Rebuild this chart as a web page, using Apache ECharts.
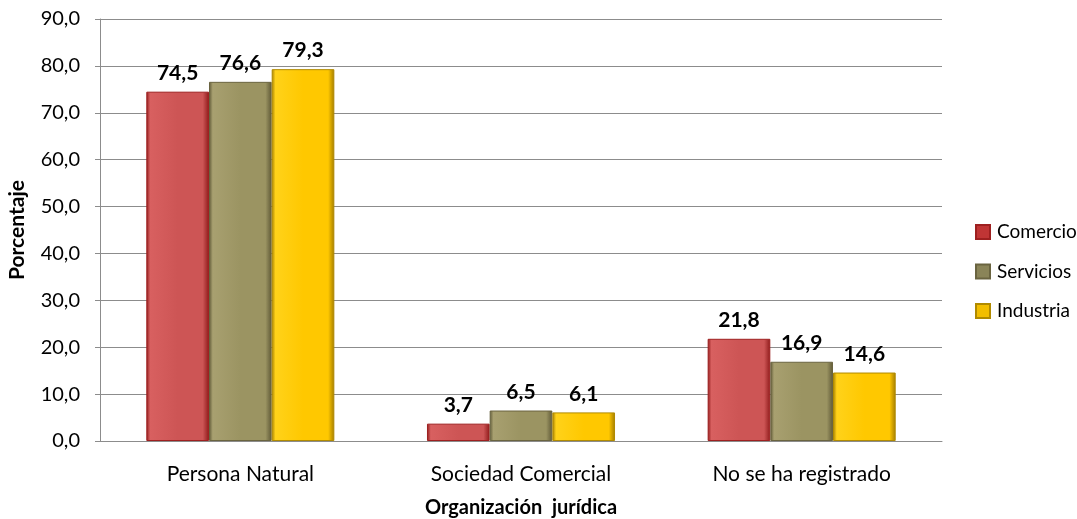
<!DOCTYPE html>
<html><head><meta charset="utf-8">
<script src="https://cdn.jsdelivr.net/npm/echarts@6/dist/echarts.min.js"></script>
<style>html,body{margin:0;padding:0;background:#fff;overflow:hidden}#c{width:1077px;height:519px}</style>
</head><body><div id="c"></div>
<script>
const categories = ['Persona Natural', 'Sociedad Comercial', 'No se ha registrado'];
const comercio = [74.5, 3.7, 21.8];
const servicios = [76.6, 6.5, 16.9];
const industria = [79.3, 6.1, 14.6];
const seriesNames = ['Comercio', 'Servicios', 'Industria'];
const yTicks = [0, 10, 20, 30, 40, 50, 60, 70, 80, 90];

const FONT = 'Lato, "Open Sans", sans-serif';
function grad(light, mid, dark) {
  return new echarts.graphic.LinearGradient(0, 0, 1, 0, [
    {offset: 0, color: dark}, {offset: 0.06, color: light}, {offset: 0.5, color: mid},
    {offset: 0.9, color: mid}, {offset: 1, color: dark}
  ]);
}
const styles = [
  {color: grad('#d86060', '#cd5555', '#8e1a1a'), borderColor: '#9e2020'},
  {color: grad('#a8a070', '#9b9462', '#5e5836'), borderColor: '#6a6440'},
  {color: grad('#ffd21a', '#ffc800', '#a37c00'), borderColor: '#b08a00'}
];
const legendColors = ['#c03535', '#8a8458', '#f2be00'];
const data = [comercio, servicios, industria];
const chart = echarts.init(document.getElementById('c'), null, {renderer: 'canvas', width: 1077, height: 519});
chart.setOption({
  animation: false,
  textStyle: {fontFamily: FONT},
  grid: {left: 100, right: 135, top: 19, bottom: 78, containLabel: false, outerBoundsMode: 'none'},
  legend: {
    orient: 'vertical', left: 975, top: 222, itemGap: 19.5, padding: 0,
    itemWidth: 14, itemHeight: 14, icon: 'rect',
    textStyle: {fontFamily: FONT, fontSize: 19, lineHeight: 20, color: '#000', padding: [0, 0, 0, 2]},
    data: seriesNames.map((n, i) => ({name: n, itemStyle: {color: legendColors[i]}}))
  },
  xAxis: {
    type: 'category', data: categories,
    name: 'Organización  jurídica', nameLocation: 'middle', nameGap: 57,
    nameTextStyle: {fontFamily: FONT, fontSize: 20, fontWeight: 'bold', color: '#000'},
    axisLine: {lineStyle: {color: '#8c8c8c', width: 1}},
    axisTick: {show: false},
    axisLabel: {fontFamily: FONT, fontSize: 21, color: '#000', margin: 23}
  },
  yAxis: {
    type: 'value', min: 0, max: 90, interval: 10,
    name: 'Porcentaje', nameLocation: 'middle', nameGap: 72,
    nameTextStyle: {fontFamily: FONT, fontSize: 21, fontWeight: 'bold', color: '#000'},
    axisLine: {show: true, lineStyle: {color: '#8c8c8c'}},
    axisTick: {show: true, inside: false, length: 5, lineStyle: {color: '#8c8c8c'}},
    splitLine: {lineStyle: {color: '#8c8c8c', width: 1}},
    axisLabel: {fontFamily: FONT, fontSize: 20, color: '#000', margin: 20,
      formatter: v => yTicks.includes(v) ? v.toFixed(1).replace('.', ',') : ''}
  },
  series: seriesNames.map((n, i) => ({
    name: n, type: 'bar', data: data[i],
    barGap: '0%', barCategoryGap: '33%',
    itemStyle: Object.assign({borderWidth: 1}, styles[i]),
    label: {show: true, position: 'top', distance: 8, fontFamily: FONT, fontSize: 21, fontWeight: 'bold', color: '#000',
      formatter: p => p.value.toFixed(1).replace('.', ',')}
  }))
});
</script></body></html>
